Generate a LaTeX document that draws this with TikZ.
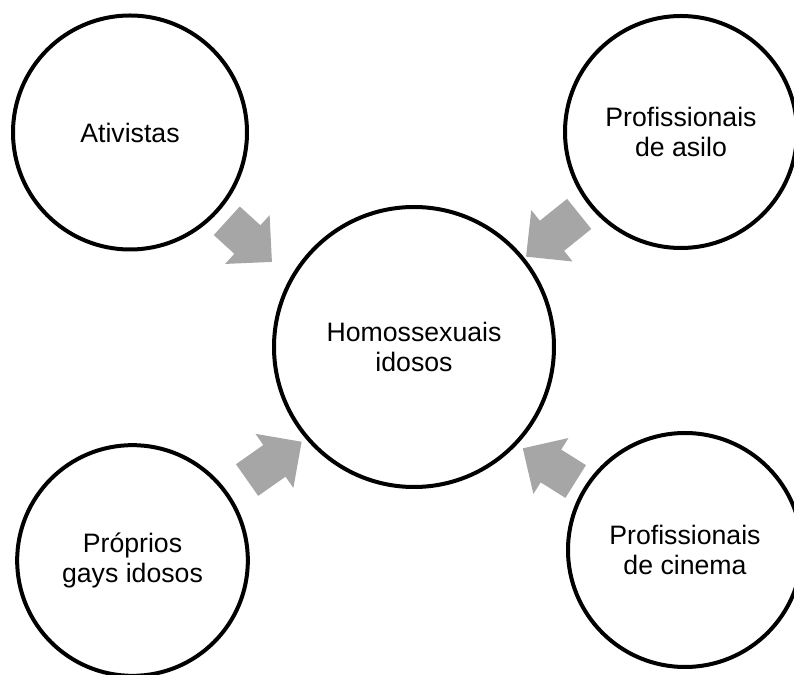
\documentclass[tikz,border=0pt]{standalone}
\usepackage{fontspec}
\setmainfont{Liberation Sans}
\usetikzlibrary{arrows.meta}
\definecolor{cinzaseta}{RGB}{166,166,166}

\begin{document}
\begin{tikzpicture}[x=0.75pt, y=0.75pt,
        roda/.style={circle, draw, line width=3pt, align=center, inner sep=0pt,
            font=\fontsize{20}{22}\selectfont},
        seta/.style={draw=cinzaseta, line width=29pt,
            -{Triangle[length=25pt, width=48pt]}}]
            \useasboundingbox (0, 0) rectangle (794, 675);

            \coordinate (P1) at (272, 413);
            \coordinate (P2) at (526, 418.3);
            \coordinate (P3) at (301.7, 233.3);
            \coordinate (P4) at (522.7, 226.7);

            \node[roda, minimum size=210pt] (centro) at (414, 328) {Homossexuais\\idosos};
            \node[roda, minimum size=175.5pt] (ativ) at (130, 542.5) {Ativistas};
            \node[roda, minimum size=174pt] (asilo) at (681, 543) {Profissionais\\de asilo};
            \node[roda, minimum size=173pt] (proprios) at (132.5, 114.5) {Próprios\\gays idosos};
            \node[roda, minimum size=175.5pt] (cinema) at (685, 125) {Profissionais\\de cinema};

            \draw[seta, shorten <=9pt] (ativ) -- (P1);
            \draw[seta, shorten <=9.5pt] (asilo) -- (P2);
            \draw[seta, shorten <=17pt] (proprios) -- (P3);
            \draw[seta, shorten <=7.5pt] (cinema) -- (P4);
        \end{tikzpicture}
\end{document}
